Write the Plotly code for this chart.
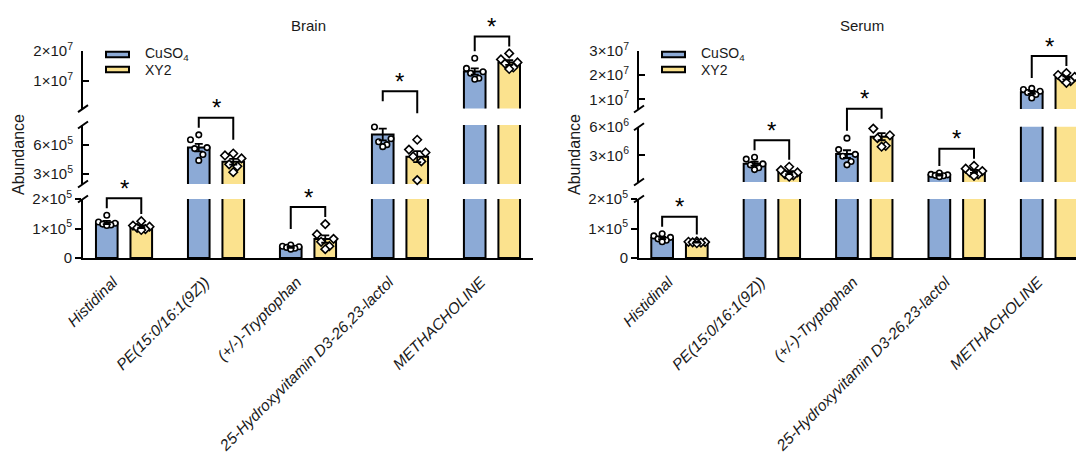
import numpy as np
import plotly.graph_objects as go

categories = ["Histidinal", "PE(15:0/16:1(9Z))", "(+/-)-Tryptophan",
              "25-Hydroxyvitamin D3-26,23-lactol", "METHACHOLINE"]
group_names = ["CuSO<sub>4</sub>", "XY2"]

# individual sample values (6 per bar)
brain_cuso4 = [
    [1.45e5, 1.22e5, 1.18e5, 1.15e5, 1.12e5, 1.10e5],
    [7.0e5, 6.5e5, 5.7e5, 5.6e5, 5.0e5, 4.4e5],
    [0.44e5, 0.40e5, 0.38e5, 0.36e5, 0.33e5, 0.30e5],
    [9.7e5, 7.8e5, 6.6e5, 6.3e5, 6.0e5, 5.8e5],
    [1.76e7, 1.42e7, 1.31e7, 1.26e7, 1.09e7, 1.06e7],
]
brain_xy2 = [
    [1.25e5, 1.10e5, 1.06e5, 1.02e5, 0.98e5, 0.95e5],
    [5.1e5, 4.9e5, 4.6e5, 4.0e5, 3.8e5, 3.2e5],
    [1.15e5, 0.80e5, 0.65e5, 0.55e5, 0.40e5, 0.30e5],
    [6.5e5, 5.5e5, 5.2e5, 4.8e5, 4.3e5, 2.4e5],
    [1.92e7, 1.72e7, 1.62e7, 1.58e7, 1.45e7, 1.40e7],
]
serum_cuso4 = [
    [0.82e5, 0.75e5, 0.70e5, 0.65e5, 0.60e5, 0.55e5],
    [2.8e6, 2.6e6, 2.1e6, 2.0e6, 1.7e6, 1.5e6],
    [4.8e6, 3.6e6, 3.1e6, 2.9e6, 2.35e6, 2.0e6],
    [1.15e6, 1.0e6, 0.95e6, 0.9e6, 0.85e6, 0.75e6],
    [1.45e7, 1.40e7, 1.33e7, 1.28e7, 1.20e7, 1.05e7],
]
serum_xy2 = [
    [0.56e5, 0.55e5, 0.54e5, 0.53e5, 0.52e5, 0.50e5],
    [1.8e6, 1.45e6, 1.2e6, 1.0e6, 0.9e6, 0.75e6],
    [6.1e6, 5.8e6, 5.1e6, 4.8e6, 4.0e6, 3.9e6],
    [1.9e6, 1.6e6, 1.35e6, 1.2e6, 1.0e6, 0.85e6],
    [2.08e7, 2.0e7, 1.92e7, 1.85e7, 1.75e7, 1.68e7],
]

# axis segments (value range) and tick values
brain_ranges = [(0, 2e5), (2e5, 8e5), (8e5, 2e7)]
serum_ranges = [(0, 2e5), (2e5, 6e6), (6e6, 3e7)]
brain_ticks = [[0, 1e5, 2e5], [3e5, 6e5], [1e7, 2e7]]
serum_ticks = [[0, 1e5, 2e5], [3e6, 6e6], [1e7, 2e7, 3e7]]

# ---------------- style / layout ----------------
OFF = 8                      # default page margin around the plot div
W, H = 1084 - OFF, 466 - OFF
BLUE = "#8CAAD6"
YELLOW = "#FBE28E"
colors = [BLUE, YELLOW]
symbols = ["circle", "diamond"]
msizes = [5.5, 6.5]
FONT = "Liberation Sans, Arial, sans-serif"
TXT = "#1a1a1a"
BW = 0.235          # bar width (category units)
HALF = 0.1875       # bar centre offset
JIT = [0.0, -0.09, 0.09, -0.045, 0.045, 0.0]
LABEL_SHIFT = -0.12  # rotated category labels sit slightly left of the group centre

panels = [
    dict(title="Brain", data=[brain_cuso4, brain_xy2], ranges=brain_ranges, ticks=brain_ticks,
         xpx=(83, 533), xr=(-0.446, 4.446),
         ypx=[(258, 199), (184, 125), (108.6, 51)]),
    dict(title="Serum", data=[serum_cuso4, serum_xy2], ranges=serum_ranges, ticks=serum_ticks,
         xpx=(639, 1084), xr=(-0.438, 4.378),
         ypx=[(258, 199), (182, 126.7), (109, 50.7)]),
]


def PX(x):   # page px -> paper x
    return (x - OFF) / W


def PY(y):   # page px -> paper y
    return 1 - (y - OFF) / H


def fmt(v):
    if v == 0:
        return "0"
    e = int(np.floor(np.log10(v)))
    m = round(v / 10 ** e, 3)
    return f"{m:g}×10<sup>{e}</sup>"


def seg_of(p, v):
    for s, (r0, r1) in enumerate(p["ranges"]):
        if v <= r1:
            return s
    return len(p["ranges"]) - 1


def ypix(p, s, v):
    r0, r1 = p["ranges"][s]
    y0, y1 = p["ypx"][s]
    return y0 + (v - r0) / (r1 - r0) * (y1 - y0)


def xpix(p, x):
    (a, b), (r0, r1) = p["xpx"], p["xr"]
    return a + (x - r0) / (r1 - r0) * (b - a)


fig = go.Figure()
layout = dict(width=W, height=H, margin=dict(l=0, r=0, t=0, b=0), showlegend=False,
              plot_bgcolor="white", paper_bgcolor="white", barmode="overlay",
              font=dict(family=FONT, color=TXT))
shapes, annos = [], []

for pi, p in enumerate(panels):
    xname = "x" if pi == 0 else "x2"
    xkey = "xaxis" if pi == 0 else "xaxis2"
    ynames = []
    for s in range(3):
        k = pi * 3 + s + 1
        ynames.append("y" if k == 1 else f"y{k}")
    layout[xkey] = dict(domain=[PX(p["xpx"][0]), PX(p["xpx"][1])], range=list(p["xr"]),
                        anchor=ynames[0], showline=True, linewidth=2, linecolor="black",
                        ticks="", tickvals=[c + LABEL_SHIFT for c in range(len(categories))],
                        ticktext=[f"<i>{c}</i>" for c in categories], tickangle=-45,
                        ticklabelstandoff=7,
                        tickfont=dict(size=15.5, family=FONT, color=TXT),
                        showgrid=False, zeroline=False, automargin=False)
    for s in range(3):
        k = pi * 3 + s + 1
        ykey = "yaxis" if k == 1 else f"yaxis{k}"
        y0, y1 = p["ypx"][s]
        layout[ykey] = dict(domain=[PY(y0), PY(y1)], range=list(p["ranges"][s]),
                            anchor=xname, showline=True, linewidth=2, linecolor="black",
                            ticks="outside" if s == 0 else "inside", ticklen=6, tickwidth=2,
                            tickcolor="black", tickvals=p["ticks"][s],
                            ticktext=[fmt(v) for v in p["ticks"][s]],
                            ticklabelstandoff=0 if s == 0 else 5,
                            tickfont=dict(size=15, family=FONT, color=TXT),
                            showgrid=False, zeroline=False, automargin=False)

    xcats = np.arange(len(categories))
    # bars, repeated in every segment they reach (clipped by each segment)
    for g in range(2):
        vals = p["data"][g]
        means = [float(np.mean(v)) for v in vals]
        off = (-HALF if g == 0 else HALF) - BW / 2
        for s in range(3):
            r0 = p["ranges"][s][0]
            ys = [m if m > r0 else None for m in means]
            fig.add_trace(go.Bar(x=xcats, y=ys, width=BW, offset=off,
                                 marker=dict(color=colors[g], line=dict(color="black", width=2)),
                                 xaxis=xname, yaxis=ynames[s], hoverinfo="skip"))
    # points and error bars drawn in the segment holding the mean
    for g in range(2):
        vals = p["data"][g]
        cen = -HALF if g == 0 else HALF
        for s in range(3):
            px, py, mx, my, me = [], [], [], [], []
            for c, v in enumerate(vals):
                m = float(np.mean(v))
                if seg_of(p, m) != s:
                    continue
                order = np.argsort(v)[::-1]
                for rank, idx in enumerate(order):
                    px.append(c + cen + JIT[rank])
                    py.append(v[idx])
                mx.append(c + cen)
                my.append(m)
                me.append(float(np.std(v, ddof=1) / np.sqrt(len(v))))
            if not px:
                continue
            fig.add_trace(go.Scatter(x=px, y=py, mode="markers", cliponaxis=False,
                                     marker=dict(symbol=symbols[g], size=msizes[g],
                                                 color="white", line=dict(color="black", width=1.6)),
                                     xaxis=xname, yaxis=ynames[s], hoverinfo="skip"))
            fig.add_trace(go.Scatter(x=mx, y=my, mode="markers", cliponaxis=False,
                                     marker=dict(size=1, color="rgba(0,0,0,0)"),
                                     error_y=dict(type="data", array=me, visible=True,
                                                  color="black", thickness=1.8, width=4),
                                     xaxis=xname, yaxis=ynames[s], hoverinfo="skip"))

    # significance brackets
    for c in range(len(categories)):
        tops = []
        for g in range(2):
            v = p["data"][g][c]
            s = seg_of(p, float(np.mean(v)))
            tops.append(ypix(p, s, max(v)))
        top = min(tops) - 17
        xs = [xpix(p, c - HALF), xpix(p, c + HALF)]
        legs = [min(max(t - 7, top + 6), top + 22) for t in tops]
        path = (f"M {PX(xs[0]):.5f} {PY(legs[0]):.5f} L {PX(xs[0]):.5f} {PY(top):.5f} "
                f"L {PX(xs[1]):.5f} {PY(top):.5f} L {PX(xs[1]):.5f} {PY(legs[1]):.5f}")
        shapes.append(dict(type="path", path=path, xref="paper", yref="paper",
                           line=dict(color="black", width=2)))
        annos.append(dict(text="*", x=PX(xpix(p, c)), y=PY(top - 10), xref="paper",
                          yref="paper", showarrow=False, xanchor="center", yanchor="middle",
                          font=dict(size=24, family=FONT, color="black")))

    # axis break marks
    ax = p["xpx"][0]
    for s in range(2):
        for yb in (p["ypx"][s][1], p["ypx"][s + 1][0]):
            shapes.append(dict(type="line", xref="paper", yref="paper",
                               x0=PX(ax - 5), y0=PY(yb + 3.5), x1=PX(ax + 5), y1=PY(yb - 3.5),
                               line=dict(color="black", width=2)))

    # title and y-axis title
    annos.append(dict(text=p["title"], x=PX((p["xpx"][0] + p["xpx"][1]) / 2), y=PY(26),
                      xref="paper", yref="paper", showarrow=False,
                      xanchor="center", yanchor="middle",
                      font=dict(size=15, family=FONT, color=TXT)))
    annos.append(dict(text="Abundance", x=PX(ax - 65), y=PY(155), xref="paper",
                      yref="paper", showarrow=False, textangle=-90,
                      xanchor="center", yanchor="middle",
                      font=dict(size=16, family=FONT, color=TXT)))

    # legend (drawn manually)
    for g in range(2):
        yc = 54.5 + g * 15
        shapes.append(dict(type="rect", xref="paper", yref="paper",
                           x0=PX(ax + 23), x1=PX(ax + 46),
                           y0=PY(yc + 2.8), y1=PY(yc - 2.8),
                           fillcolor=colors[g], line=dict(color="black", width=2)))
        annos.append(dict(text=group_names[g], x=PX(ax + 60), y=PY(yc), xref="paper",
                          yref="paper", showarrow=False, xanchor="left", yanchor="middle",
                          font=dict(size=14, family=FONT, color=TXT)))

layout["shapes"] = shapes
layout["annotations"] = annos
fig.update_layout(**layout)
fig.write_html("out.html")
